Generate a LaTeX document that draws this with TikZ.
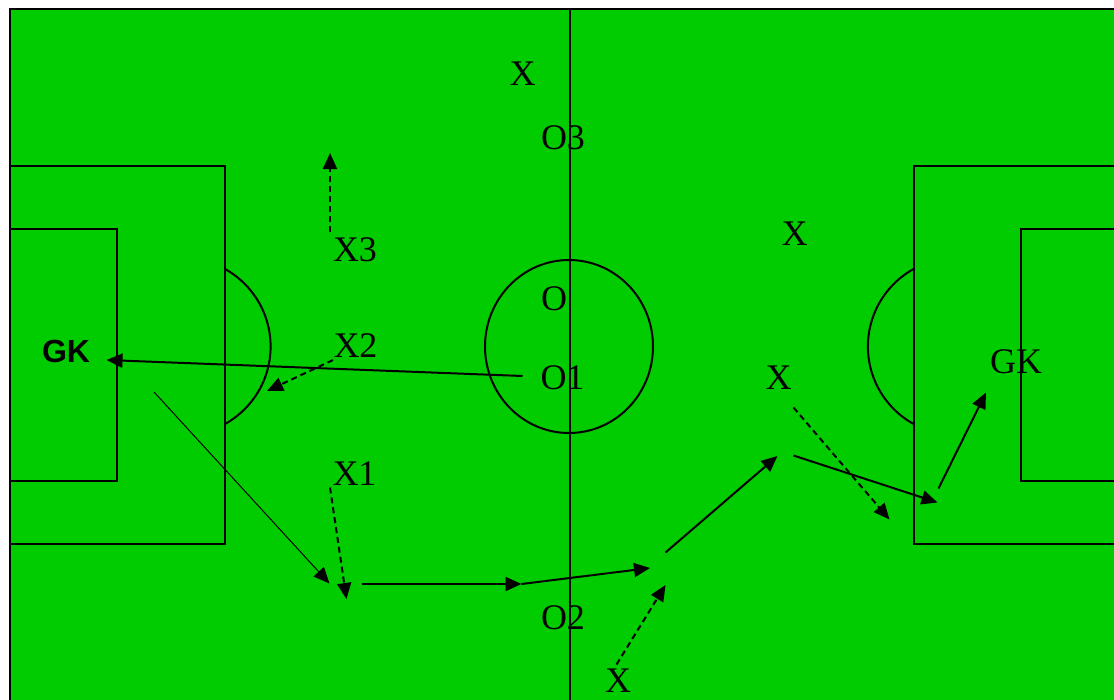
\documentclass[tikz,border=0pt]{standalone}
\usepackage{fontspec}
\setmainfont{Liberation Serif}
\newfontfamily\keeperfont{Liberation Sans}
\usetikzlibrary{arrows.meta}
\definecolor{pitchgreen}{RGB}{0,204,0}
\tikzset{
  pitchline/.style={line width=2pt},
  player/.style={inner sep=0pt,font=\fontsize{36}{40}\selectfont},
  run/.style={line width=2pt,-{Triangle[length=16pt,width=14pt]}},
  dribble/.style={run,dash pattern=on 6pt off 4pt},
}
\begin{document}
\begin{tikzpicture}[x=1pt,y=-1pt]
    \useasboundingbox (0,0) rectangle (1114,699);
    \clip (0,0) rectangle (1114,699);
    \fill[white] (0,0) rectangle (1114,699);
    % pitch
    \draw[pitchline,fill=pitchgreen] (10,9) rectangle (1128,720);
    \draw[pitchline] (10,166) rectangle (225,544);
    \draw[pitchline] (10,229) rectangle (117,481);
    \draw[pitchline] (913.5,166) rectangle (1130,544);
    \draw[pitchline] (1021,229) rectangle (1130,481);
    \draw[pitchline] (569.5,9) -- (569.5,710);
    \draw[pitchline] (569,346.5) ellipse (84pt and 86.5pt);
    \begin{scope}
        \clip (225,0) rectangle (500,699);
        \draw[pitchline] (182,346.5) circle (88.6pt);
    \end{scope}
    \begin{scope}
        \clip (600,0) rectangle (913.5,699);
        \draw[pitchline] (956.5,346.5) circle (88.6pt);
    \end{scope}

    % players
    \draw (522.5,74) node[player] (XT) {X};
    \draw (563,138) node[player] (O3) {O3};
    \draw (554,299) node[player] (O) {O};
    \draw (562.5,378) node[player] (O1) {O1};
    \draw (563,617.5) node[player] (O2) {O2};
    \draw (618,681) node[player] (XB) {X};
    \draw (355,250) node[player] (X3) {X3};
    \draw (355.5,346) node[player] (X2) {X2};
    \draw (354.5,474) node[player] (X1) {X1};
    \draw (794.5,234) node[player] (XR) {X};
    \draw (778.5,377.5) node[player] (XM) {X};
    \draw (66,351.5) node[inner sep=0pt,font=\keeperfont\bfseries\fontsize{32}{36}\selectfont] (GKL) {GK};
    \draw (1016,362) node[player] (GKR) {GK};

    % runs and passes
    \coordinate (x3a) at (330,232);   \coordinate (x3b) at (330,153);
    \coordinate (x2a) at (333,360);   \coordinate (x2b) at (267,391);
    \coordinate (o1a) at (522.5,376); \coordinate (gkb) at (106.5,360);
    \coordinate (gka) at (154,392);   \coordinate (gkc) at (329.5,583.5);
    \coordinate (x1a) at (330,487.5); \coordinate (x1b) at (346.5,599);
    \coordinate (p1) at (361.5,584);  \coordinate (p2) at (521.5,584);
    \coordinate (p3) at (650,568);
    \coordinate (p4) at (665.5,552.5); \coordinate (p5) at (777.5,456);
    \coordinate (xba) at (616.5,664.5); \coordinate (xbb) at (665.5,585);
    \coordinate (xma) at (793.5,407.5); \coordinate (xmb) at (889.5,519.5);
    \coordinate (p6) at (793.5,455.5); \coordinate (p7) at (937.5,502.5);
    \coordinate (p8) at (938.5,488.5); \coordinate (p9) at (986,392.5);

    \draw[dribble] (x3a) -- (x3b);
    \draw[dribble] (x2a) -- (x2b);
    \draw[run] (o1a) -- (gkb);
    \draw[run,line width=1pt] (gka) -- (gkc);
    \draw[dribble] (x1a) -- (x1b);
    \draw[run] (p1) -- (p2);
    \draw[run] (p2) -- (p3);
    \draw[run] (p4) -- (p5);
    \draw[dribble] (xba) -- (xbb);
    \draw[dribble] (xma) -- (xmb);
    \draw[run] (p6) -- (p7);
    \draw[run] (p8) -- (p9);
\end{tikzpicture}
\end{document}
